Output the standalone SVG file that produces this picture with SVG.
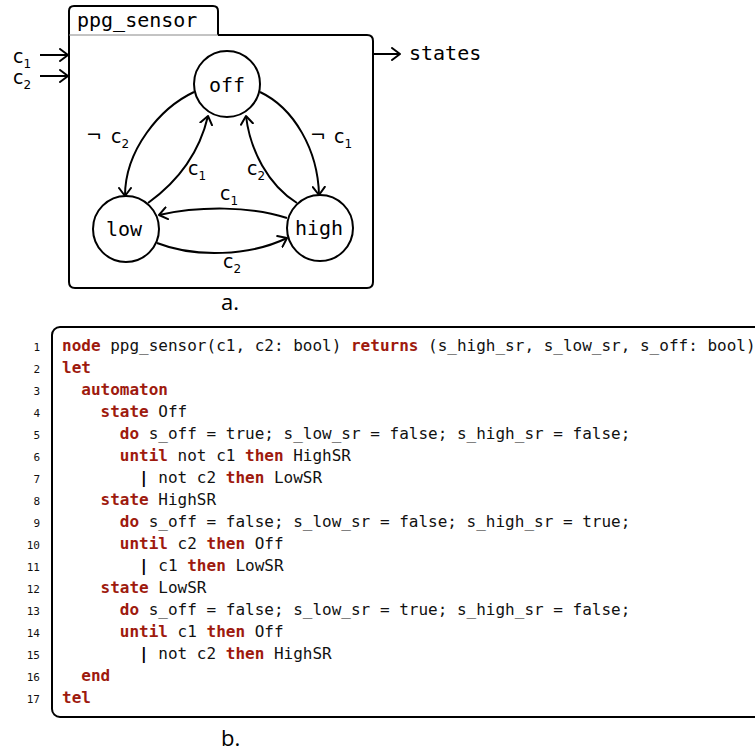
<svg xmlns="http://www.w3.org/2000/svg" width="755" height="753" viewBox="0 0 755 753">
<defs>
<marker id="arr" viewBox="0 0 10 14" refX="9" refY="7" markerWidth="10" markerHeight="14" markerUnits="userSpaceOnUse" orient="auto">
<path d="M1,1 L9,7 L1,13" fill="none" stroke="#000" stroke-width="2" stroke-linecap="round" stroke-linejoin="round"/>
</marker>
<style>
.ln{fill:none;stroke:#000;stroke-width:2}
.st{fill:#fff;stroke:#000;stroke-width:2}
.mono{font-family:"DejaVu Sans Mono","Liberation Mono",monospace;fill:#000}
.lbl{font-family:"DejaVu Sans","Liberation Sans",sans-serif;font-size:19px;fill:#000}
.sub{font-size:12px}
.code{font-family:"DejaVu Sans Mono","Liberation Mono",monospace;font-size:16px;fill:#111;white-space:pre}
.kw{font-weight:bold;fill:#9e1a0e}
.bar{font-weight:bold;fill:#000}
.num{font-family:"DejaVu Sans Mono","Liberation Mono",monospace;font-size:11px;fill:#111;text-anchor:end}
.cap{font-family:"Open Sans","DejaVu Sans",sans-serif;font-size:22px;fill:#000}
</style>
</defs>
<rect width="755" height="753" fill="#fff"/>

<g id="block">
<path class="ln" d="M69,35 V11 Q69,6 74,6 H213 Q218,6 218,11 V35"/>
<path class="ln" d="M218,35 H367 Q373,35 373,41 V282 Q373,288 367,288 H75 Q69,288 69,282 V35"/>
<line x1="69" y1="35" x2="218" y2="35" stroke="#888" stroke-width="1"/>
<text class="mono" x="77" y="27" font-size="20">ppg_sensor</text>
</g>

<g id="inputs">
<line class="ln" x1="40" y1="55" x2="68" y2="55" marker-end="url(#arr)"/>
<line class="ln" x1="40" y1="76" x2="68" y2="76" marker-end="url(#arr)"/>
<text class="lbl" x="13" y="63">c<tspan class="sub" dy="5">1</tspan></text>
<text class="lbl" x="13" y="84">c<tspan class="sub" dy="5">2</tspan></text>
</g>

<g id="output">
<line class="ln" x1="374" y1="54" x2="400" y2="54" marker-end="url(#arr)"/>
<text class="mono" x="409" y="60" font-size="20">states</text>
</g>

<g id="connectors">
<path class="ln" d="M194,92 C160,108 125,150 125,196" marker-end="url(#arr)"/>
<path class="ln" d="M148,203 C180,180 200,150 208,116" marker-end="url(#arr)"/>
<path class="ln" d="M260,92 C294,108 318,150 319,195" marker-end="url(#arr)"/>
<path class="ln" d="M297,203 C268,185 250,150 246,116" marker-end="url(#arr)"/>
<path class="ln" d="M287,218 C250,206 200,206 159,215" marker-end="url(#arr)"/>
<path class="ln" d="M157,243 C195,258 250,256 287,238" marker-end="url(#arr)"/>
<text class="lbl" x="86" y="142">¬<tspan x="111" y="143">c</tspan><tspan class="sub" dy="5">2</tspan></text>
<text class="lbl" x="310" y="142">¬<tspan x="334" y="143">c</tspan><tspan class="sub" dy="5">1</tspan></text>
<text class="lbl" x="188" y="175">c<tspan class="sub" dy="5">1</tspan></text>
<text class="lbl" x="247" y="175">c<tspan class="sub" dy="5">2</tspan></text>
<text class="lbl" x="220" y="200">c<tspan class="sub" dy="5">1</tspan></text>
<text class="lbl" x="223" y="268">c<tspan class="sub" dy="5">2</tspan></text>
</g>

<g id="off">
<circle class="st" cx="227" cy="84" r="33"/>
<text class="mono" x="227" y="92" font-size="20" text-anchor="middle">off</text>
</g>
<g id="low">
<circle class="st" cx="126" cy="229" r="33"/>
<text class="mono" x="124" y="236" font-size="20" text-anchor="middle">low</text>
</g>
<g id="high">
<circle class="st" cx="320" cy="228" r="33"/>
<text class="mono" x="319" y="235" font-size="20" text-anchor="middle">high</text>
</g>

<text class="cap" x="221" y="310">a.</text>

<g id="code">
<rect x="52" y="327" width="760" height="390" rx="8" class="ln"/>
<g>
<text class="num" x="40" y="351">1</text>
<text class="num" x="40" y="373">2</text>
<text class="num" x="40" y="395">3</text>
<text class="num" x="40" y="417">4</text>
<text class="num" x="40" y="439">5</text>
<text class="num" x="40" y="461">6</text>
<text class="num" x="40" y="483">7</text>
<text class="num" x="40" y="505">8</text>
<text class="num" x="40" y="527">9</text>
<text class="num" x="40" y="549">10</text>
<text class="num" x="40" y="571">11</text>
<text class="num" x="40" y="593">12</text>
<text class="num" x="40" y="615">13</text>
<text class="num" x="40" y="637">14</text>
<text class="num" x="40" y="659">15</text>
<text class="num" x="40" y="681">16</text>
<text class="num" x="40" y="703">17</text>
</g>
<g xml:space="preserve">
<text class="code" x="62" y="351"><tspan class="kw">node</tspan> ppg_sensor(c1, c2: bool) <tspan class="kw">returns</tspan> (s_high_sr, s_low_sr, s_off: bool)</text>
<text class="code" x="62" y="373"><tspan class="kw">let</tspan></text>
<text class="code" x="62" y="395">  <tspan class="kw">automaton</tspan></text>
<text class="code" x="62" y="417">    <tspan class="kw">state</tspan> Off</text>
<text class="code" x="62" y="439">      <tspan class="kw">do</tspan> s_off = true; s_low_sr = false; s_high_sr = false;</text>
<text class="code" x="62" y="461">      <tspan class="kw">until</tspan> not c1 <tspan class="kw">then</tspan> HighSR</text>
<text class="code" x="62" y="483">        <tspan class="bar">|</tspan> not c2 <tspan class="kw">then</tspan> LowSR</text>
<text class="code" x="62" y="505">    <tspan class="kw">state</tspan> HighSR</text>
<text class="code" x="62" y="527">      <tspan class="kw">do</tspan> s_off = false; s_low_sr = false; s_high_sr = true;</text>
<text class="code" x="62" y="549">      <tspan class="kw">until</tspan> c2 <tspan class="kw">then</tspan> Off</text>
<text class="code" x="62" y="571">        <tspan class="bar">|</tspan> c1 <tspan class="kw">then</tspan> LowSR</text>
<text class="code" x="62" y="593">    <tspan class="kw">state</tspan> LowSR</text>
<text class="code" x="62" y="615">      <tspan class="kw">do</tspan> s_off = false; s_low_sr = true; s_high_sr = false;</text>
<text class="code" x="62" y="637">      <tspan class="kw">until</tspan> c1 <tspan class="kw">then</tspan> Off</text>
<text class="code" x="62" y="659">        <tspan class="bar">|</tspan> not c2 <tspan class="kw">then</tspan> HighSR</text>
<text class="code" x="62" y="681">  <tspan class="kw">end</tspan></text>
<text class="code" x="62" y="703"><tspan class="kw">tel</tspan></text>
</g>
</g>

<text class="cap" x="221" y="746">b.</text>
</svg>
